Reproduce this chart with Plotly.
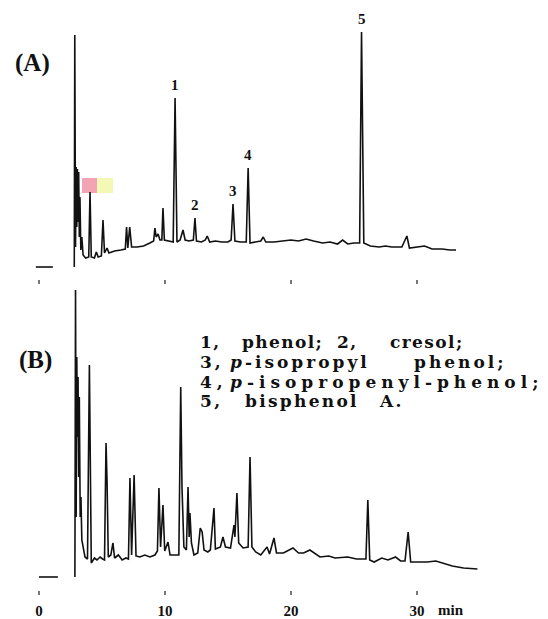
import plotly.graph_objects as go

# ---------------- data (time in min, detector signal in arbitrary units) -------------
# Chromatogram (A)
time_a = [2.80, 2.84, 2.90, 2.95, 3.00, 3.05, 3.10, 3.15, 3.20, 3.25, 3.32, 3.40, 3.50, 3.70,
          3.95, 4.05, 4.15, 4.40, 4.55, 4.70, 4.95, 5.08, 5.20, 5.40, 5.55, 6.00, 6.50, 6.85,
          6.95, 7.05, 7.20, 7.35, 7.80, 8.30, 8.80, 9.10, 9.20, 9.30, 9.45, 9.60, 9.75, 9.84,
          9.95, 10.30, 10.65, 10.80, 10.95, 11.20, 11.43, 11.60, 11.90, 12.25, 12.38, 12.50,
          12.90, 13.20, 13.35, 13.55, 14.00, 14.50, 15.00, 15.25, 15.40, 15.55, 16.00, 16.45,
          16.60, 16.75, 17.20, 17.60, 17.80, 18.00, 18.65, 19.30, 20.00, 20.60, 21.20, 21.80,
          22.50, 23.10, 23.70, 24.10, 24.50, 25.00, 25.45, 25.60, 25.78, 26.30, 27.00, 27.50,
          28.00, 28.80, 29.20, 29.40, 30.00, 30.60, 31.20, 32.00, 32.60, 33.10]
signal_a = [0, 232, 20, 100, 40, 98, 45, 95, 30, 70, 17, 30, 12, 9,
            10, 75, 10, 9, 15, 10, 11, 47, 14, 19, 14, 16, 17, 18,
            40, 19, 40, 20, 20, 21, 24, 26, 39, 30, 33, 27, 27, 59,
            27, 26, 25, 169, 25, 27, 37, 27, 26, 27, 49, 26,
            25, 27, 31, 25, 26, 25, 25, 27, 63, 26, 25, 25,
            99, 24, 25, 26, 30, 25, 25, 26, 27, 26, 28, 26,
            24, 25, 23, 27, 23, 24, 24, 235, 24, 21, 20, 21,
            20, 20, 31, 19, 20, 21, 18, 18, 17, 17]

# Chromatogram (B)
time_b = [2.85, 2.90, 2.95, 3.00, 3.05, 3.10, 3.15, 3.20, 3.27, 3.33, 3.40, 3.50, 3.65, 3.85,
          4.00, 4.15, 4.40, 4.60, 4.85, 5.05, 5.20, 5.32, 5.40, 5.50, 5.70, 5.87, 6.00, 6.30,
          6.60, 6.90, 7.10, 7.22, 7.35, 7.55, 7.70, 8.00, 8.40, 8.80, 9.20, 9.40, 9.52, 9.65,
          9.84, 9.98, 10.24, 10.40, 10.80, 11.10, 11.25, 11.35, 11.50, 11.70, 11.83, 11.92,
          11.98, 12.10, 12.30, 12.60, 12.80, 12.95, 13.10, 13.40, 13.60, 13.89, 14.00, 14.40,
          14.60, 14.80, 15.20, 15.48, 15.55, 15.71, 15.85, 16.20, 16.60, 16.75, 16.90, 17.20,
          17.60, 18.10, 18.30, 18.65, 18.85, 19.40, 20.16, 20.60, 21.00, 21.50, 22.30, 23.00,
          23.50, 24.50, 25.20, 25.95, 26.10, 26.25, 26.60, 27.20, 27.70, 28.30, 28.70, 29.05,
          29.30, 29.50, 30.30, 30.80, 31.50, 32.10, 32.80, 33.70, 34.80]
signal_b = [0, 287, 60, 220, 140, 200, 100, 180, 60, 80, 37, 30, 20, 18,
            212, 14, 19, 17, 20, 18, 17, 134, 97, 20, 22, 34, 19, 22,
            17, 19, 18, 99, 22, 102, 21, 20, 22, 20, 22, 26, 89, 30,
            72, 26, 35, 22, 22, 22, 190, 90, 30, 27, 90, 40,
            64, 34, 22, 24, 49, 45, 27, 25, 27, 69, 28, 30,
            40, 30, 29, 52, 40, 84, 34, 29, 30, 120, 30, 25,
            22, 30, 23, 39, 24, 24, 29, 24, 24, 27, 20, 21,
            19, 20, 18, 18, 77, 17, 15, 19, 17, 20, 16, 16,
            45, 15, 15, 15, 16, 14, 11, 9, 8]

# recorder zero line before injection
zero_t_a = [-0.25, 1.10]
zero_t_b = [0.0, 1.50]
zero_v = [0, 0]

# numbered peaks in (A)
peak_ids = ["1", "2", "3", "4", "5"]
peak_times = [10.80, 12.38, 15.40, 16.60, 25.60]
peak_heights = [169, 49, 63, 99, 235]

tick_vals = [0, 10, 20, 30]
tick_text = ["0", "10", "20", "30"]
time_unit = "min"

# peak identification key (justified text, one list per printed line)
key_line1 = ["1,", "phenol;", "2,", "cresol;"]
key_line2 = ["3,", "<i>p</i>-isopropyl", "phenol;"]
key_line3 = ["4,", "<i>p</i>-isopropenyl-phenol;"]
key_line4 = ["5,", "bisphenol", "A."]
panel_labels = ["(A)", "(B)"]

# ---------------- figure ----------------
W, H = 548, 619
SERIF = "Liberation Serif"
INK = "#111111"
line_style = dict(color=INK, width=1.6)

fig = go.Figure()
fig.add_trace(go.Scatter(x=zero_t_a, y=zero_v, mode="lines", line=line_style,
                         xaxis="x", yaxis="y", hoverinfo="skip"))
fig.add_trace(go.Scatter(x=time_a, y=signal_a, mode="lines", line=line_style,
                         xaxis="x", yaxis="y", name="A"))
fig.add_trace(go.Scatter(x=zero_t_b, y=zero_v, mode="lines", line=line_style,
                         xaxis="x2", yaxis="y2", hoverinfo="skip"))
fig.add_trace(go.Scatter(x=time_b, y=signal_b, mode="lines", line=line_style,
                         xaxis="x2", yaxis="y2", name="B"))

xr = [-3.095, 40.40]
common_x = dict(range=xr, domain=[0, 1], showgrid=False, zeroline=False, showline=False,
                ticks="outside", tickvals=tick_vals, ticklen=4, tickwidth=2,
                tickcolor="#777777", fixedrange=True)


def ydom(top_px, bot_px):
    return [1 - bot_px / H, 1 - top_px / H]


fig.update_layout(
    width=W, height=H, margin=dict(l=0, r=0, t=0, b=0),
    paper_bgcolor="white", plot_bgcolor="white", showlegend=False,
    xaxis=dict(**common_x, anchor="y", showticklabels=False),
    yaxis=dict(domain=ydom(0, 279), range=[-12, 267], visible=False, fixedrange=True),
    xaxis2=dict(**common_x, anchor="y2", showticklabels=True, ticktext=tick_text,
                ticklabelstandoff=3,
                tickfont=dict(family=SERIF, size=15, color=INK, weight="bold")),
    yaxis2=dict(domain=ydom(280, 590), range=[-13, 297], visible=False, fixedrange=True),
)

annotations = []
for pid, t, h in zip(peak_ids, peak_times, peak_heights):
    annotations.append(dict(x=t, y=h, xref="x", yref="y", text=pid, showarrow=False,
                            yanchor="bottom", yshift=3,
                            font=dict(family=SERIF, size=15, color=INK, weight="bold")))
annotations.append(dict(x=tick_vals[-1], y=0, xref="x2", yref="paper", text=time_unit,
                        showarrow=False, xanchor="left", yanchor="middle", xshift=19,
                        yshift=H - 610,
                        font=dict(family=SERIF, size=15, color=INK, weight="bold")))
for lab, (cx, cy) in zip(panel_labels, [(32, 63), (35, 360)]):
    annotations.append(dict(x=cx / W, y=1 - cy / H, xref="paper", yref="paper",
                            text=lab, showarrow=False, xanchor="center", yanchor="middle",
                            font=dict(family=SERIF, size=25, color=INK, weight="bold")))

# layout of the key: left edges of each word group, line centre and letter spacing
key_layout = [
    (key_line1, [198, 240, 335, 388], 342, 1.4),
    (key_line2, [198, 228, 412], 362, 3.0),
    (key_line3, [198, 228], 382, 5.0),
    (key_line4, [198, 243, 377], 401, 2.3),
]
for words, xs, ypx, ls in key_layout:
    for w, xpx in zip(words, xs):
        annotations.append(dict(x=xpx / W, y=1 - ypx / H, xref="paper", yref="paper",
                                text='<span style="letter-spacing:%.1fpx">%s</span>' % (ls, w),
                                showarrow=False, xanchor="left", yanchor="middle",
                                font=dict(family="DejaVu Serif", size=17, color=INK,
                                          weight="bold")))
fig.update_layout(annotations=annotations)

# small coloured blotches present in the scanned original
fig.add_shape(type="rect", xref="paper", yref="paper", x0=82 / W, x1=97 / W,
              y0=1 - 193 / H, y1=1 - 178 / H, fillcolor="#f2a4b4", line_width=0, layer="below")
fig.add_shape(type="rect", xref="paper", yref="paper", x0=97 / W, x1=113 / W,
              y0=1 - 193 / H, y1=1 - 178 / H, fillcolor="#f3f8b4", line_width=0, layer="below")

fig.write_html("out.html")
